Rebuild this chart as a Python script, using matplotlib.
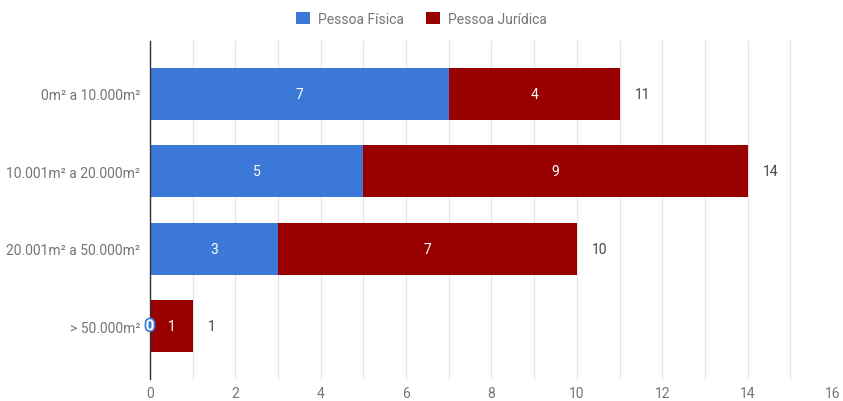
import matplotlib
matplotlib.use("Agg")
import matplotlib.pyplot as plt
import matplotlib.patheffects as pe
import numpy as np

plt.rcParams['font.family'] = ['Roboto', 'DejaVu Sans']

categories = ["0m² a 10.000m²", "10.001m² a 20.000m²", "20.001m² a 50.000m²", "> 50.000m²"]
pessoa_fisica = [7, 5, 3, 0]
pessoa_juridica = [4, 9, 7, 1]
series_names = ["Pessoa Física", "Pessoa Jurídica"]
colors = ["#3c78d8", "#990000"]

fig = plt.figure(figsize=(8.43, 4.02), dpi=100)
ax = fig.add_axes([150/843, 1 - 380/402, (833 - 150)/843, (380 - 42)/402])

y = np.arange(len(categories))
h = 0.67
ax.barh(y, pessoa_fisica, height=h, color=colors[0], zorder=3, label=series_names[0])
ax.barh(y, pessoa_juridica, left=pessoa_fisica, height=h, color=colors[1], zorder=3,
        label=series_names[1])

totals = [a + b for a, b in zip(pessoa_fisica, pessoa_juridica)]
for i, (a, b, t) in enumerate(zip(pessoa_fisica, pessoa_juridica, totals)):
    if a > 0:
        ax.text(a / 2, i, str(a), ha='center', va='center', color='white', fontsize=10, zorder=5)
    else:
        ax.text(0, i, str(a), ha='center', va='center', color='white', fontsize=11,
                fontweight='bold', zorder=5,
                path_effects=[pe.withStroke(linewidth=2.5, foreground=colors[0])])
    ax.text(a + b / 2, i, str(b), ha='center', va='center', color='white', fontsize=10, zorder=5)
    ax.text(t + 0.35, i, str(t), ha='left', va='center', color='#444444', fontsize=10, zorder=5)

ax.set_xlim(0, 16)
ax.set_ylim(len(categories) - 1 + 0.68, -0.68)
ax.set_xticks(np.arange(0, 17, 2))
ax.set_xticks(np.arange(0, 17, 1), minor=True)
ax.grid(axis='x', which='both', color='#e4e4e4', linewidth=0.9, zorder=0)
ax.set_yticks(y)
ax.set_yticklabels(categories)
ax.tick_params(axis='both', which='both', length=0, colors='#757575', labelsize=10)
ax.tick_params(axis='x', pad=5)
ax.tick_params(axis='y', pad=7)
for s in ['top', 'right', 'bottom']:
    ax.spines[s].set_visible(False)
ax.spines['left'].set_color('#333333')
ax.spines['left'].set_linewidth(1)
ax.spines['left'].set_zorder(4)

fig.legend(loc='upper center', bbox_to_anchor=(0.5, 1.0), ncol=2, frameon=False,
           fontsize=10, labelcolor='#757575', handlelength=1.0, handleheight=1.0,
           handletextpad=0.6, columnspacing=1.6)

fig.savefig("out.png", dpi=100)
